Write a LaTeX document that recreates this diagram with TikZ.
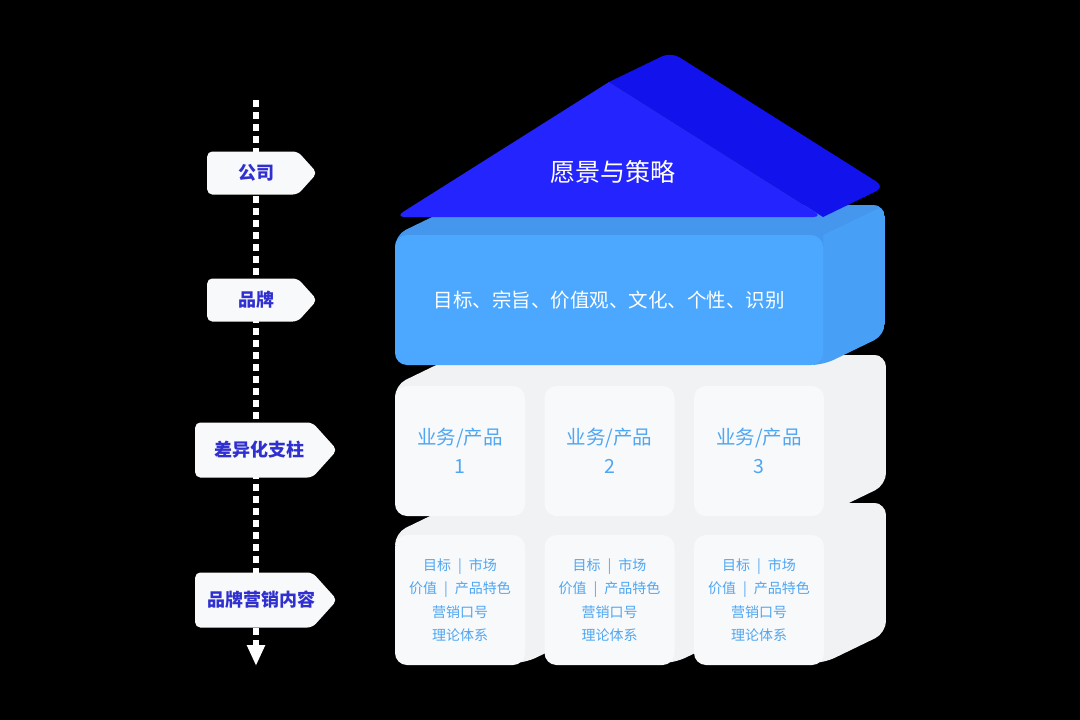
\documentclass[tikz,border=0pt]{standalone}
\usepackage{fontspec}
\setmainfont{Noto Sans CJK SC}
\usetikzlibrary{positioning,shapes.symbols,arrows.meta}

\definecolor{roofFront}{HTML}{2424FF}
\definecolor{roofBack}{HTML}{1212EC}
\definecolor{brandFront}{HTML}{4CA8FF}
\definecolor{brandTop}{HTML}{4497EC}
\definecolor{brandSide}{HTML}{47A0F6}
\definecolor{cubeFront}{HTML}{F8F9FA}
\definecolor{cubeSide}{HTML}{F0F2F4}
\definecolor{tagFill}{HTML}{F8F9FA}
\definecolor{tagText}{HTML}{3030D0}
\definecolor{itemText}{HTML}{4FA6F2}

% back faces of a block: front box (#1,#2)-(#3,#4), top colour #5, side colour #6
\newcommand{\blockshell}[6]{%
  \begin{scope}
    \clip[rounded corners=12pt] (#1,#2) -- (#1+62,#2-30) -- (#3+62,#2-30)
      -- (#3+62,#4-30) -- (#3,#4) -- (#1,#4) -- cycle;
    \fill[#6] (#3-10,#2-30) rectangle (#3+62,#4);
    \fill[#5] (#1,#2+12) -- (#1,#2) -- (#1+62,#2-30) -- (#3+62,#2-30)
      -- (#3,#2) -- (#3,#2+12) -- cycle;
  \end{scope}}

% tag text, moved right by #1 from the middle of the tag box
\newcommand{\tagtext}[2]{\hspace*{#1}\makebox[0pt]{#2}}

\tikzset{
  tagbox/.style={signal, signal to=east, signal pointer angle=96,
    fill=tagFill, rounded corners=5pt, text=tagText, inner sep=0pt,
    font=\fontsize{18}{22}\selectfont\bfseries, anchor=west},
  axisline/.style={white, line width=6pt, dash pattern=on 7pt off 5pt,
    -{Triangle[width=17pt,length=21pt]}},
  face/.style={rounded corners=12pt, minimum width=130pt, minimum height=130pt,
    inner sep=0pt, align=center},
  pillarface/.style={face, fill=cubeFront, text=itemText,
    font=\fontsize{19.5}{29}\selectfont},
  contentface/.style={face, fill=cubeFront, text=itemText,
    font=\fontsize{14}{23.3}\selectfont}
}

\begin{document}
\begin{tikzpicture}[x=1pt,y=-1pt]
  \fill[black] (0,0) rectangle (1080,720);

  % axis on the left
  \coordinate (axtop) at (256,100);
  \coordinate (axbot) at (256,666);
  \draw[axisline] (axtop) -- (axbot);

  \node[tagbox, minimum width=110pt, minimum height=43pt] (tagcompany) at (207,173) {\tagtext{7pt}{公司}};
  \node[tagbox, minimum width=110pt, minimum height=43pt] (tagbrand) at (207,300) {\tagtext{7pt}{品牌}};
  \node[tagbox, minimum width=142pt, minimum height=55pt] (tagpillar) at (195,450) {\tagtext{11pt}{差异化支柱}};
  \node[tagbox, minimum width=142pt, minimum height=55pt] (tagcontent) at (195,600) {\tagtext{16pt}{品牌营销内容}};

  % content row
  \foreach \i in {0,1,2} {
    \pgfmathsetmacro\xa{395+149.5*\i}
    \pgfmathsetmacro\xb{\xa+130}
    \blockshell{\xa}{533}{\xb}{663}{cubeSide}{cubeSide}
    \node[contentface] (content\i) at (\xa+65,600)
      {目标\enspace{}|\enspace{}市场\\价值\enspace{}|\enspace{}产品特色\\营销口号\\理论体系};
  }

  % pillar row
  \foreach \i/\n in {0/1,1/2,2/3} {
    \pgfmathsetmacro\xa{395+149.5*\i}
    \pgfmathsetmacro\xb{\xa+130}
    \blockshell{\xa}{385}{\xb}{515}{cubeSide}{cubeSide}
    \node[pillarface] (pillar\n) at (\xa+65,451) {业务/产品\\\n};
  }

  % brand block
  \blockshell{395}{235}{823}{365}{brandTop}{brandSide}
  \node[face, fill=brandFront, minimum width=428pt, text=white,
    font=\fontsize{19.5}{24}\selectfont] (brand) at (609,300)
    {目标、宗旨、价值观、文化、个性、识别};

  % roof
  \fill[roofBack] (609,82) [rounded corners=10pt] -- (671,52) -- (885,187)
    [sharp corners] -- (823,217) -- cycle;
  \fill[roofFront] (609,82) [rounded corners=10pt] -- (823,217) -- (395,217)
    [sharp corners] -- cycle;
  \node[text=white, font=\fontsize{25}{30}\selectfont] (vision) at (613,172) {愿景与策略};
\end{tikzpicture}
\end{document}
